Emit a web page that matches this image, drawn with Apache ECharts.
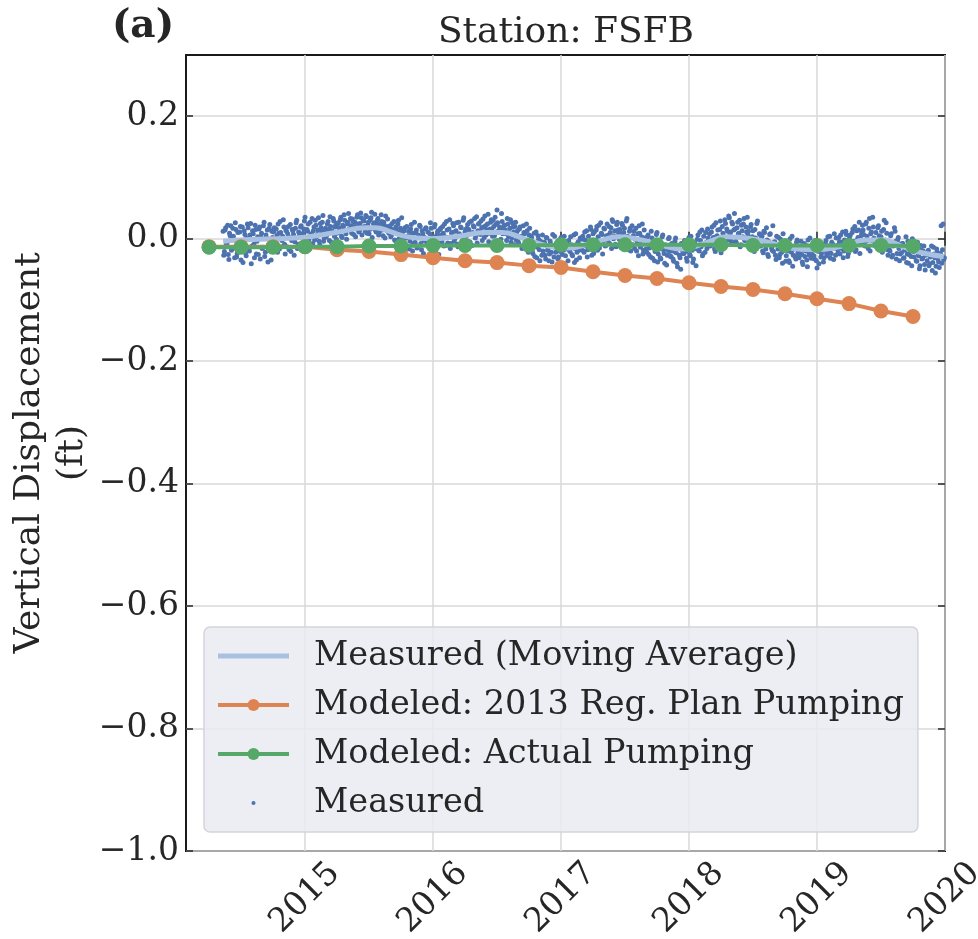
<!DOCTYPE html>
<html>
<head>
<meta charset="utf-8">
<script src="https://cdn.jsdelivr.net/npm/echarts@6/dist/echarts.min.js"></script>
<style>
html,body{margin:0;padding:0;background:#fff;overflow:hidden;}
#chart{width:978px;height:939px;}
</style>
</head>
<body>
<div id="chart"></div>
<script>
// ---- data ----
const xTickYears = [2015, 2016, 2017, 2018, 2019, 2020];
const yTickValues = [-1.0, -0.8, -0.6, -0.4, -0.2, 0.0, 0.2];

// modeled, quarterly (decimal year)
const modeledYears = [2014.25,2014.5,2014.75,2015.0,2015.25,2015.5,2015.75,2016.0,2016.25,2016.5,2016.75,2017.0,2017.25,2017.5,2017.75,2018.0,2018.25,2018.5,2018.75,2019.0,2019.25,2019.5,2019.75];
const modeledRegPlan = [-0.013,-0.013,-0.013,-0.013,-0.018,-0.021,-0.026,-0.031,-0.036,-0.039,-0.044,-0.047,-0.054,-0.060,-0.065,-0.072,-0.078,-0.083,-0.090,-0.098,-0.106,-0.118,-0.127];
const modeledActual = [-0.014,-0.014,-0.014,-0.013,-0.013,-0.012,-0.012,-0.011,-0.011,-0.011,-0.011,-0.010,-0.010,-0.010,-0.010,-0.010,-0.010,-0.011,-0.011,-0.011,-0.011,-0.011,-0.012];

// moving average
const maYears = [2014.36,2014.49,2014.75,2014.98,2015.24,2015.48,2015.55,2015.66,2015.80,2015.99,2016.20,2016.41,2016.54,2016.70,2016.90,2017.05,2017.29,2017.45,2017.63,2017.81,2017.95,2018.13,2018.30,2018.49,2018.64,2018.77,2018.98,2019.20,2019.38,2019.51,2019.66,2019.82,2019.99];
const maValues = [-0.004,-0.002,0.000,0.002,0.010,0.018,0.018,0.012,0.003,0.000,0.004,0.010,0.010,0.001,-0.012,-0.015,-0.004,0.003,-0.002,-0.012,-0.017,-0.007,0.003,0.000,-0.007,-0.015,-0.018,-0.012,-0.002,-0.002,-0.012,-0.023,-0.029];

// measured, two interleaved sample runs, one value every 0.01 year from each start
const measuredStartA = 2014.36;
const measuredStartB = 2014.365;
const measuredStep = 0.01;
const measuredValuesA = [
0.012,-0.021,0.018,-0.008,-0.026,0.009,0.021,-0.015,0.004,-0.031,
0.015,-0.024,-0.004,0.011,-0.035,0.019,-0.012,0.007,-0.028,0.024,
-0.018,0.006,-0.041,0.013,-0.009,0.022,-0.025,0.003,0.016,-0.033,
0.009,-0.014,0.027,-0.022,0.001,-0.038,0.017,-0.006,0.012,-0.019,
0.018,-0.011,0.005,0.024,-0.017,0.010,-0.003,0.031,-0.009,0.014,
-0.013,0.020,0.002,-0.021,0.015,0.007,-0.005,0.026,-0.016,0.011,
0.004,0.021,-0.010,0.016,0.035,-0.006,0.012,-0.002,0.027,0.008,
-0.008,0.019,0.030,0.003,0.014,-0.004,0.025,0.011,0.038,0.001,
0.017,0.006,0.028,-0.003,0.020,0.013,0.033,0.004,0.022,0.009,
0.026,0.010,0.035,0.002,0.019,0.030,0.008,0.024,0.041,0.014,
0.021,0.032,0.007,0.027,0.016,0.039,0.011,0.025,0.034,0.018,
0.029,0.012,0.036,0.022,0.008,0.031,0.043,0.017,0.026,0.014,
0.024,0.033,0.010,0.019,0.028,0.005,0.022,0.037,0.013,0.020,
0.016,0.003,0.025,0.011,-0.002,0.019,0.008,0.030,-0.005,0.013,
0.007,-0.009,0.018,0.001,-0.015,0.012,-0.004,0.023,-0.020,0.009,
-0.006,0.014,-0.012,0.004,0.020,-0.018,0.008,-0.003,0.016,-0.010,
0.011,-0.007,0.026,-0.014,0.003,0.019,-0.021,0.006,0.013,-0.002,
0.017,-0.005,0.009,0.024,-0.011,0.014,0.002,0.031,-0.008,0.010,
0.021,0.000,0.013,-0.009,0.027,0.006,0.018,-0.003,0.034,0.011,
0.004,0.023,0.015,-0.006,0.029,0.010,0.019,0.001,0.036,0.013,
0.025,0.007,0.018,0.032,0.002,0.021,0.014,0.040,0.009,0.027,
0.016,0.030,0.005,0.023,0.047,0.012,0.019,-0.001,0.028,0.015,
0.022,0.008,0.033,0.003,0.017,-0.006,0.026,0.011,0.020,-0.002,
0.013,-0.008,0.019,0.004,-0.014,0.010,-0.003,0.024,-0.019,0.006,
-0.015,0.002,-0.024,0.009,-0.011,-0.031,0.005,-0.018,-0.004,-0.027,
-0.020,-0.006,-0.033,0.001,-0.016,-0.025,-0.009,-0.038,-0.013,0.004,
-0.022,-0.008,-0.030,-0.014,0.002,-0.026,-0.019,-0.041,-0.005,-0.017,
-0.003,-0.021,-0.010,-0.028,0.006,-0.016,-0.035,-0.007,-0.019,0.001,
-0.014,0.004,-0.022,-0.002,0.013,-0.018,-0.006,0.019,-0.027,0.008,
0.011,-0.009,0.020,0.003,-0.015,0.026,0.007,-0.004,0.016,-0.011,
0.024,0.006,-0.008,0.018,0.031,0.000,0.013,-0.013,0.027,0.009,
0.015,-0.005,0.022,0.010,-0.012,0.029,0.004,-0.018,0.017,0.002,
-0.010,0.012,-0.001,-0.020,0.008,0.021,-0.014,0.003,-0.025,0.014,
-0.004,-0.022,0.006,-0.015,-0.030,0.001,-0.012,-0.036,-0.007,0.010,
-0.025,-0.009,-0.033,0.003,-0.018,-0.040,-0.011,-0.027,0.000,-0.021,
-0.029,-0.012,-0.037,-0.004,-0.023,-0.046,-0.015,-0.031,-0.008,-0.020,
-0.024,-0.006,-0.032,-0.013,0.002,-0.028,-0.018,-0.039,-0.009,-0.016,
-0.013,0.006,-0.020,-0.003,0.014,-0.025,-0.009,0.010,-0.016,0.001,
0.008,-0.011,0.019,0.002,-0.017,0.026,0.005,-0.006,0.015,-0.023,
0.020,0.004,0.031,-0.009,0.012,0.037,0.007,-0.004,0.024,0.014,
0.016,-0.007,0.027,0.009,-0.013,0.022,0.003,0.033,-0.002,0.011,
0.006,-0.015,0.019,-0.004,0.013,-0.021,0.001,0.025,-0.010,0.008,
-0.012,0.004,-0.023,0.010,-0.017,-0.002,-0.029,0.007,-0.008,-0.019,
-0.021,-0.005,-0.034,-0.010,0.002,-0.026,-0.015,-0.040,-0.007,-0.019,
-0.028,-0.011,-0.036,0.000,-0.022,-0.045,-0.014,-0.030,-0.006,-0.024,
-0.031,-0.013,-0.026,-0.042,-0.008,-0.020,-0.035,-0.002,-0.027,-0.016,
-0.025,-0.009,-0.033,-0.015,-0.048,-0.004,-0.021,-0.030,-0.011,-0.038,
-0.019,-0.003,-0.028,-0.012,0.004,-0.024,-0.008,-0.034,-0.015,0.001,
-0.017,0.002,-0.025,-0.006,0.011,-0.020,-0.011,0.007,-0.029,-0.001,
0.006,-0.013,0.016,-0.004,-0.021,0.013,0.002,0.027,-0.009,0.009,
0.014,-0.007,0.024,0.004,-0.016,0.033,0.008,-0.003,0.019,-0.011,
0.010,-0.014,0.021,-0.005,0.003,-0.022,0.015,-0.009,0.026,-0.018,
-0.004,-0.020,0.008,-0.027,-0.011,0.012,-0.033,-0.002,-0.016,-0.025,
-0.023,-0.008,-0.031,-0.014,-0.039,-0.004,-0.026,-0.018,-0.044,-0.010,
-0.030,-0.015,-0.037,-0.024,-0.049,-0.011,-0.033,-0.020,-0.042,-0.027,
-0.036,-0.019,-0.041,-0.028,-0.052,-0.014,-0.031,-0.045,-0.022,-0.038,
-0.027,0.021,-0.018,-0.034
];
const measuredValuesB = [
-0.027,0.014,-0.009,0.022,-0.034,0.005,-0.019,0.017,-0.002,0.026,
-0.030,0.010,-0.016,0.020,-0.006,-0.039,0.013,-0.023,0.001,0.018,
-0.020,0.025,-0.012,0.008,-0.031,0.015,-0.004,-0.026,0.019,0.003,
-0.016,0.021,-0.029,0.006,0.014,-0.010,0.023,-0.035,0.002,0.011,
-0.007,0.016,-0.022,0.009,0.028,-0.013,0.004,0.019,-0.025,0.012,
0.008,-0.018,0.023,-0.003,0.013,-0.027,0.017,0.030,-0.009,0.005,
0.019,-0.012,0.009,0.029,-0.004,0.015,0.024,-0.017,0.006,0.033,
0.013,-0.002,0.022,0.007,0.034,-0.010,0.018,0.027,-0.004,0.012,
0.003,0.024,0.015,0.036,-0.006,0.010,0.029,0.019,-0.001,0.025,
0.018,0.031,0.004,0.022,0.039,0.012,-0.001,0.027,0.016,0.033,
0.009,0.028,0.020,0.003,0.035,0.024,0.013,0.042,0.006,0.030,
0.020,0.038,0.009,0.027,0.015,0.034,0.002,0.024,0.040,0.011,
0.030,0.006,0.023,0.039,0.014,0.027,0.001,0.018,0.032,0.009,
0.021,0.006,0.015,0.028,-0.003,0.012,0.024,0.000,0.017,0.034,
-0.002,0.013,-0.012,0.020,0.005,-0.017,0.016,0.009,-0.008,0.027,
0.010,-0.015,0.006,0.022,-0.008,0.013,-0.024,0.002,0.018,-0.005,
-0.011,0.008,0.017,-0.019,0.002,0.023,-0.007,0.011,-0.026,0.015,
0.006,0.020,-0.012,0.003,0.028,-0.007,0.016,-0.016,0.009,0.025,
-0.004,0.012,0.026,-0.013,0.008,0.019,-0.006,0.030,0.001,0.015,
0.017,-0.004,0.027,0.009,-0.011,0.021,0.033,0.005,-0.007,0.024,
0.012,0.029,-0.003,0.019,0.037,0.006,0.024,-0.005,0.016,0.031,
0.004,0.020,0.035,0.011,0.026,-0.004,0.017,0.041,0.008,0.022,
0.014,-0.003,0.024,0.010,0.031,0.001,0.019,-0.010,0.027,0.006,
-0.005,0.016,0.002,-0.016,0.021,0.008,-0.009,0.013,-0.022,0.017,
0.004,-0.020,-0.008,-0.029,0.011,-0.014,-0.001,-0.036,-0.010,0.006,
-0.008,-0.027,0.002,-0.019,-0.036,-0.004,-0.022,0.007,-0.030,-0.014,
-0.010,-0.033,-0.002,-0.021,-0.045,-0.012,0.004,-0.028,-0.016,-0.036,
-0.018,0.003,-0.026,-0.013,-0.039,0.008,-0.022,-0.005,-0.031,-0.011,
-0.001,-0.020,0.011,-0.012,-0.030,0.004,-0.016,0.015,-0.009,-0.024,
-0.007,0.014,-0.019,0.022,-0.002,0.009,-0.025,0.017,-0.012,0.005,
-0.003,0.020,0.010,-0.016,0.028,0.005,-0.009,0.023,0.014,-0.001,
0.008,0.025,-0.011,0.017,0.002,0.033,-0.006,0.012,-0.020,0.021,
0.005,-0.016,0.017,-0.008,-0.028,0.009,-0.003,0.024,-0.019,0.001,
-0.017,0.003,-0.026,-0.011,0.012,-0.032,-0.004,-0.021,0.007,-0.038,
-0.006,-0.031,-0.015,0.006,-0.024,-0.010,-0.043,-0.019,0.002,-0.029,
-0.008,-0.033,-0.021,0.001,-0.040,-0.014,-0.027,-0.050,-0.011,-0.024,
-0.003,-0.021,-0.037,-0.010,-0.026,0.004,-0.019,-0.033,-0.007,-0.044,
-0.001,-0.019,0.011,-0.013,-0.028,0.004,-0.022,-0.006,0.016,-0.011,
-0.012,0.011,-0.006,0.022,-0.021,0.004,0.014,-0.009,0.029,-0.003,
0.009,-0.010,0.025,0.016,-0.002,0.034,0.011,0.027,-0.007,0.041,
-0.004,0.018,0.008,0.030,-0.010,0.013,0.024,-0.003,0.019,0.035,
0.012,-0.008,0.023,0.003,-0.018,0.015,-0.002,0.029,-0.012,0.007,
0.003,-0.020,0.012,-0.009,0.018,-0.026,-0.005,0.008,-0.015,0.021,
-0.006,-0.027,0.004,-0.017,-0.031,-0.001,-0.022,0.008,-0.013,-0.037,
-0.005,-0.020,-0.039,-0.012,0.004,-0.027,-0.017,-0.033,-0.002,-0.022,
-0.024,-0.004,-0.038,-0.018,-0.029,-0.011,-0.046,-0.022,0.001,-0.032,
-0.012,-0.028,-0.003,-0.036,-0.020,-0.041,-0.007,-0.024,-0.017,-0.031,
-0.008,-0.024,0.003,-0.019,-0.032,-0.006,-0.015,0.008,-0.027,-0.011,
-0.022,-0.005,0.006,-0.016,-0.031,-0.002,0.012,-0.013,-0.024,0.003,
-0.015,0.010,-0.007,0.020,-0.018,-0.002,0.014,-0.024,0.005,0.022,
0.007,-0.012,0.027,-0.003,0.017,-0.020,0.011,0.035,0.001,-0.008,
-0.006,0.018,0.005,-0.019,0.012,-0.010,0.030,-0.002,0.009,-0.027,
-0.018,0.005,-0.030,-0.012,0.018,-0.004,-0.024,0.002,-0.036,-0.009,
-0.008,-0.032,-0.019,0.003,-0.025,-0.040,-0.011,-0.029,0.000,-0.021,
-0.017,-0.036,-0.006,-0.028,-0.044,-0.019,-0.032,-0.012,-0.051,-0.025,
-0.022,-0.044,-0.030,-0.012,-0.039,-0.025,-0.056,-0.017,-0.033,-0.047,
-0.024,-0.040,0.024,-0.031
];

const legendNames = ['Measured (Moving Average)', 'Modeled: 2013 Reg. Plan Pumping', 'Modeled: Actual Pumping', 'Measured'];

// ---- build ----
const pair = (xs, ys) => xs.map((x, i) => [x, ys[i]]);
const measuredData = measuredValuesA.map((v, i) => [measuredStartA + i * measuredStep, v])
  .concat(measuredValuesB.map((v, i) => [measuredStartB + i * measuredStep, v]));

const FONT = 'DejaVu Serif';
const TXT = '#262626';
const GRIDC = '#d9d9d9';
const BLUE = '#4c72b0', ORANGE = '#dd8452', GREEN = '#55a868', MA = '#a9c1e1';

const fmtY = v => (v < 0 ? '\u2212' : '') + Math.abs(v).toFixed(1);

const chart = echarts.init(document.getElementById('chart'), null, {renderer: 'canvas'});
const baseX = {
  type: 'value', min: 2014.07, max: 2020,
  axisLine: {show: false},
  axisTick: {show: true, inside: true, length: 7, customValues: xTickYears, lineStyle: {color: TXT, width: 1.5}},
};
const baseY = {
  type: 'value', min: -1.0, max: 0.3,
  axisLine: {show: false},
  axisTick: {show: true, inside: true, length: 7, customValues: yTickValues, lineStyle: {color: TXT, width: 1.5}},
};
chart.setOption({
  animation: false,
  backgroundColor: '#ffffff',
  grid: {left: 186, right: 33, top: 55, bottom: 88, containLabel: false, outerBoundsMode: 'none',
    show: true, borderColor: '#1a1a1a', borderWidth: 2, backgroundColor: 'transparent'},
  graphic: [
    {type: 'text', x: 566, y: 33, style: {text: 'Station: FSFB', font: '36px "DejaVu Serif"', fill: TXT, textAlign: 'center', textVerticalAlign: 'middle'}},
    {type: 'text', x: 143, y: 27, style: {text: '(a)', font: 'bold 39px "DejaVu Serif"', fill: TXT, textAlign: 'center', textVerticalAlign: 'middle'}}
  ],
  xAxis: [
    Object.assign({}, baseX, {
      position: 'bottom',
      splitLine: {show: true, lineStyle: {color: GRIDC, width: 1.5}},
      axisLabel: {show: true, customValues: xTickYears, rotate: 45, margin: 47, align: 'center', verticalAlign: 'middle',
        fontFamily: FONT, fontSize: 33, color: TXT, formatter: v => String(Math.round(v))}
    }),
    Object.assign({}, baseX, {position: 'top', splitLine: {show: false}, axisLabel: {show: false}})
  ],
  yAxis: [
    Object.assign({}, baseY, {
      position: 'left',
      splitLine: {show: true, lineStyle: {color: GRIDC, width: 1.5}},
      axisLabel: {show: true, customValues: yTickValues, margin: 7, fontFamily: FONT, fontSize: 33, color: TXT, formatter: fmtY},
      name: 'Vertical Displacement\n(ft)', nameLocation: 'middle', nameRotate: 90, nameGap: 92, nameMoveOverlap: false,
      nameTextStyle: {fontFamily: FONT, fontSize: 36, color: TXT, lineHeight: 43, align: 'center'}
    }),
    Object.assign({}, baseY, {position: 'right', splitLine: {show: false}, axisLabel: {show: false}})
  ],
  legend: {
    orient: 'vertical', left: 204, top: 627,
    backgroundColor: 'rgba(234,234,242,0.85)', borderColor: '#d4d4dc', borderWidth: 1.5, borderRadius: 6,
    padding: [12, 14, 12, 12], itemGap: 15, itemWidth: 71, itemHeight: 15,
    textStyle: {fontFamily: FONT, fontSize: 33.5, color: TXT, lineHeight: 34, padding: [0, 0, 0, 20]},
    data: [
      {name: legendNames[0], icon: 'path://M0,0 M71,15 M0,5 L71,5 L71,10 L0,10 Z', itemStyle: {color: MA}},
      {name: legendNames[1], lineStyle: {width: 4}},
      {name: legendNames[2], lineStyle: {width: 4}},
      {name: legendNames[3], icon: 'path://M0,0 M71,0 M71,15 M0,15 M35.5,5.5 A2,2 0 1 1 35.5,9.5 A2,2 0 1 1 35.5,5.5 Z', itemStyle: {color: BLUE}}
    ]
  },
  series: [
    {name: legendNames[3], type: 'scatter', data: measuredData, symbolSize: 5, itemStyle: {color: BLUE, opacity: 1}, z: 2, silent: true},
    {name: legendNames[0], type: 'line', data: pair(maYears, maValues), smooth: 0.5, symbol: 'none',
      lineStyle: {color: MA, width: 5}, itemStyle: {color: MA}, z: 3, silent: true},
    {name: legendNames[1], type: 'line', data: pair(modeledYears, modeledRegPlan), symbol: 'circle', symbolSize: 15,
      lineStyle: {color: ORANGE, width: 4}, itemStyle: {color: ORANGE}, z: 4, silent: true},
    {name: legendNames[2], type: 'line', data: pair(modeledYears, modeledActual), symbol: 'circle', symbolSize: 15,
      lineStyle: {color: GREEN, width: 4}, itemStyle: {color: GREEN}, z: 5, silent: true}
  ]
});
</script>
</body>
</html>
